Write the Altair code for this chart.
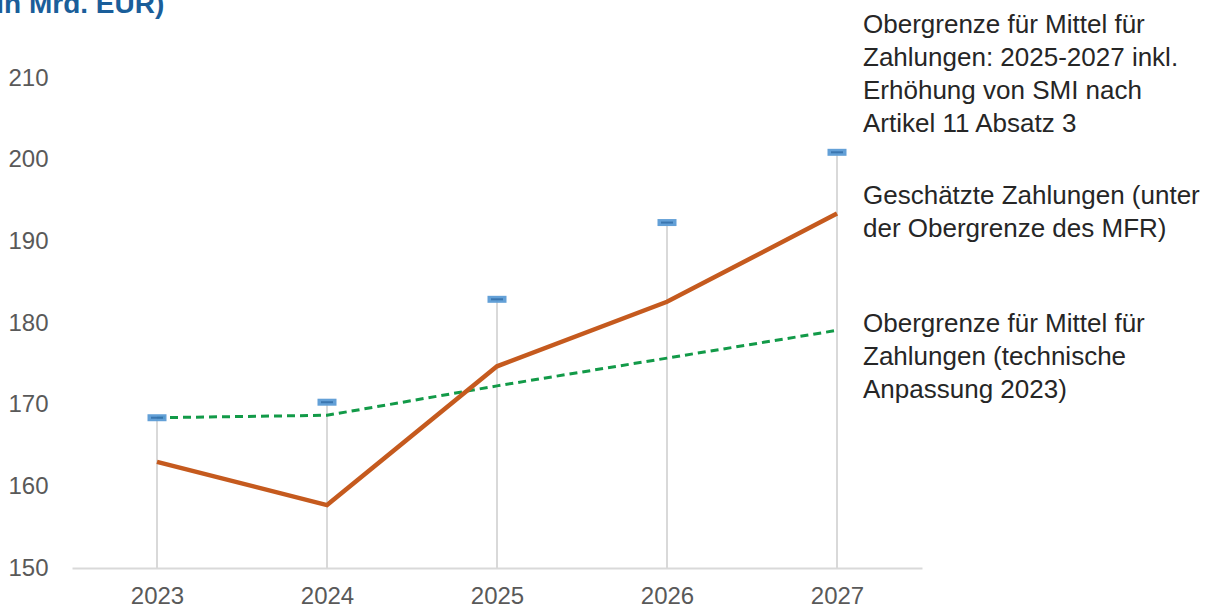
import altair as alt
import pandas as pd

years = ["2023", "2024", "2025", "2026", "2027"]
ceiling_smi = [168.4, 170.3, 182.9, 192.3, 200.9]
estimated = [163.0, 157.7, 174.7, 182.6, 193.4]
ceiling_tech = [168.4, 168.7, 172.3, 175.7, 179.1]
y_ticks = [150, 160, 170, 180, 190, 200, 210]
y_min, y_max = 150, 210

title_text = "(in Mrd. EUR)"
label_smi = ["Obergrenze für Mittel für", "Zahlungen: 2025-2027 inkl.",
             "Erhöhung von SMI nach", "Artikel 11 Absatz 3"]
label_est = ["Geschätzte Zahlungen (unter", "der Obergrenze des MFR)"]
label_tech = ["Obergrenze für Mittel für", "Zahlungen (technische",
              "Anpassung 2023)"]

df = pd.DataFrame({"year": years, "smi": ceiling_smi, "est": estimated,
                   "tech": ceiling_tech})
df_last = df.iloc[[-1]]

FONT = "Liberation Sans"

X = alt.X("year:N", sort=years, title=None,
          scale=alt.Scale(type="point", padding=0.5),
          axis=alt.Axis(labelAngle=0, ticks=False, tickSize=0, grid=False,
                        domainColor="#d9d9d9", domainWidth=2,
                        labelFontSize=24, labelColor="#595959", labelFont=FONT,
                        labelPadding=16))
yscale = alt.Scale(domain=[y_min, y_max], nice=False, zero=False)
yaxis = alt.Axis(values=y_ticks, domain=False, ticks=False, tickSize=0, grid=False,
                 labelFontSize=24, labelColor="#595959", labelFont=FONT,
                 labelPadding=24)


def Y(field):
    return alt.Y(f"{field}:Q", scale=yscale, axis=yaxis, title=None)


rules = alt.Chart(df).mark_rule(color="#d9d9d9", strokeWidth=2).encode(
    x=X, y=Y("smi"), y2=alt.datum(y_min))

tech = alt.Chart(df).mark_line(color="#129a48", strokeWidth=3,
                               strokeDash=[8, 5]).encode(x=X, y=Y("tech"))

est = alt.Chart(df).mark_line(color="#c55a1e", strokeWidth=4.5).encode(
    x=X, y=Y("est"))

tick_outer = alt.Chart(df).mark_tick(size=19, thickness=7, color="#5b9bd5",
                                     opacity=0.95).encode(x=X, y=Y("smi"))
tick_inner = alt.Chart(df).mark_tick(size=12, thickness=2, color="#2a64a0").encode(
    x=X, y=Y("smi"))


def annot(field, lines, dy):
    return alt.Chart(df_last).mark_text(
        align="left", baseline="alphabetic", dx=26, dy=dy, fontSize=26,
        font=FONT, color="#262626", lineHeight=33
    ).encode(x=X, y=Y(field), text=alt.value(lines))


a1 = annot("smi", label_smi, -119)
a2 = annot("est", label_est, -10)
a3 = annot("tech", label_tech, 2)

title = alt.Chart(pd.DataFrame({"t": [title_text]})).mark_text(
    align="left", baseline="alphabetic", fontSize=28, fontWeight="bold",
    font=FONT, color="#1a5e9a"
).encode(x=alt.value(-85), y=alt.value(-65), text="t:N")

chart = alt.layer(rules, tech, est, tick_outer, tick_inner, a1, a2, a3, title).properties(
    width=850, height=490,
    autosize=alt.AutoSizeParams(type="none"),
    padding={"left": 72, "top": 78, "right": 287, "bottom": 39},
).configure_view(stroke=None)

chart.save("out.html", embed_options={"renderer": "svg", "actions": False})
